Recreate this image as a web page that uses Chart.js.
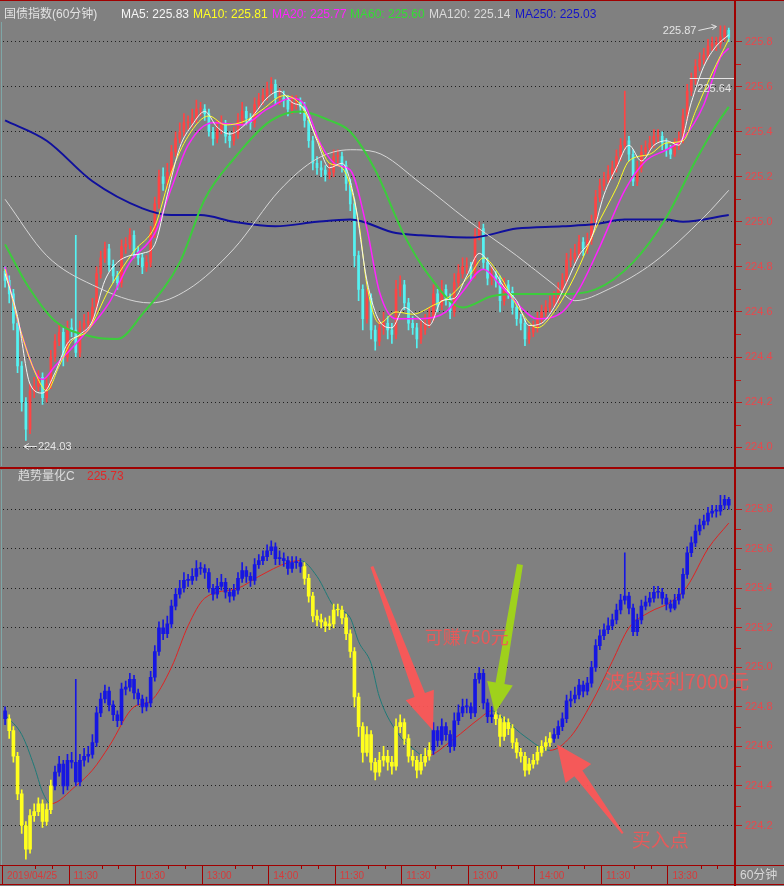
<!DOCTYPE html>
<html lang="zh-CN">
<head>
<meta charset="utf-8">
<title>国债指数(60分钟)</title>
<script src="https://cdn.jsdelivr.net/npm/chart.js@4.4.1/dist/chart.umd.min.js"></script>
<style>
  html, body { margin: 0; padding: 0; background: #808080; }
  #board { position: relative; width: 784px; height: 886px; overflow: hidden; background: #808080; }
  #board canvas { position: absolute; left: 0; }
  .txt { position: absolute; font: 12px "Liberation Sans", "Noto Sans CJK SC", sans-serif; line-height: 14px; white-space: nowrap; }
  .rule { position: absolute; background: #a00000; }
  .edge { position: absolute; left: 1px; width: 1px; background: #7fa6a6; }
</style>
</head>
<body>
<div id="board">
  <canvas id="pricePane" width="784" height="468" style="top:0"></canvas>
  <canvas id="trendPane" width="784" height="418" style="top:468px"></canvas>

  <div class="rule" style="left:0;top:0;width:784px;height:1px"></div>
  <div class="rule" style="left:0;top:467px;width:784px;height:2px"></div>
  <div class="rule" style="left:734px;top:0;width:2px;height:886px"></div>
  <div class="edge" style="top:22px;height:444px"></div>
  <div class="edge" style="top:470px;height:395px"></div>

  <div class="txt" style="left:4px;top:7px;color:#e2e2e2">国债指数(60分钟)</div>
  <div class="txt" style="left:121px;top:7px;color:#f6f6f6">MA5: 225.83</div>
  <div class="txt" style="left:193px;top:7px;color:#ffff22">MA10: 225.81</div>
  <div class="txt" style="left:272px;top:7px;color:#ff22ff">MA20: 225.77</div>
  <div class="txt" style="left:350px;top:7px;color:#33dd33">MA60: 225.60</div>
  <div class="txt" style="left:429px;top:7px;color:#dadada">MA120: 225.14</div>
  <div class="txt" style="left:515px;top:7px;color:#1414c8">MA250: 225.03</div>

  <div class="txt" style="left:18px;top:469px;color:#dcdcdc">趋势量化C</div>
  <div class="txt" style="left:87px;top:469px;color:#e02828">225.73</div>
</div>

<script>
// 60分钟K线：每格16根，共11格
const barsPerCell = 16;
const barSlots = 176;
const firstOpen = 224.78;

const closes = [
  224.74, 224.68, 224.55, 224.36, 224.20, 224.08, 224.25, 224.27, 224.31, 224.22,
  224.28, 224.40, 224.47, 224.51, 224.40, 224.53, 224.52, 224.42, 224.53, 224.55,
  224.56, 224.62, 224.77, 224.84, 224.88, 224.81, 224.76, 224.73, 224.89, 224.90,
  224.94, 224.87, 224.84, 224.80, 224.82, 224.95, 225.08, 225.20, 225.17, 225.22,
  225.31, 225.37, 225.40, 225.44, 225.44, 225.46, 225.50, 225.50, 225.48, 225.40,
  225.37, 225.41, 225.43, 225.38, 225.36, 225.39, 225.45, 225.49, 225.46, 225.44,
  225.52, 225.54, 225.56, 225.59, 225.61, 225.55, 225.55, 225.54, 225.50, 225.53,
  225.53, 225.51, 225.45, 225.36, 225.26, 225.24, 225.23, 225.21, 225.22, 225.29,
  225.29, 225.25, 225.17, 225.08, 224.85, 224.70, 224.57, 224.66, 224.52, 224.47,
  224.53, 224.55, 224.52, 224.50, 224.70, 224.72, 224.64, 224.55, 224.53, 224.48,
  224.52, 224.55, 224.58, 224.68, 224.63, 224.70, 224.66, 224.60, 224.73, 224.77,
  224.80, 224.80, 224.77, 224.94, 224.97, 224.82, 224.75, 224.76, 224.74, 224.65,
  224.72, 224.69, 224.62, 224.57, 224.55, 224.48, 224.51, 224.53, 224.57, 224.60,
  224.62, 224.64, 224.66, 224.70, 224.74, 224.83, 224.84, 224.86, 224.91, 224.88,
  224.92, 225.00, 225.11, 225.16, 225.19, 225.21, 225.24, 225.29, 225.34, 225.36,
  225.30, 225.18, 225.24, 225.31, 225.33, 225.35, 225.38, 225.38, 225.35, 225.32,
  225.30, 225.34, 225.37, 225.47, 225.58, 225.63, 225.69, 225.72, 225.74, 225.78,
  225.79, 225.79, 225.82, 225.85, 225.82
];

const highs = [
  224.80, 224.76, 224.70, 224.57, 224.38, 224.22, 224.28, 224.31, 224.34, 224.33,
  224.31, 224.43, 224.50, 224.55, 224.53, 224.56, 224.57, 224.94, 224.56, 224.59,
  224.60, 224.66, 224.80, 224.87, 224.91, 224.90, 224.83, 224.78, 224.92, 224.93,
  224.97, 224.96, 224.89, 224.86, 224.85, 224.98, 225.11, 225.23, 225.24, 225.26,
  225.34, 225.40, 225.44, 225.48, 225.47, 225.50, 225.54, 225.53, 225.52, 225.50,
  225.42, 225.45, 225.47, 225.45, 225.40, 225.42, 225.48, 225.53, 225.51, 225.48,
  225.55, 225.57, 225.59, 225.62, 225.64, 225.63, 225.59, 225.58, 225.56, 225.56,
  225.56, 225.55, 225.53, 225.47, 225.38, 225.29, 225.27, 225.25, 225.26, 225.32,
  225.32, 225.31, 225.27, 225.19, 225.10, 224.87, 224.72, 224.70, 224.68, 224.54,
  224.57, 224.60, 224.58, 224.55, 224.74, 224.76, 224.74, 224.66, 224.58, 224.55,
  224.56, 224.59, 224.62, 224.72, 224.70, 224.74, 224.72, 224.68, 224.77, 224.81,
  224.84, 224.84, 224.82, 224.97, 225.00, 224.99, 224.84, 224.80, 224.78, 224.76,
  224.75, 224.74, 224.71, 224.64, 224.59, 224.57, 224.54, 224.56, 224.60, 224.63,
  224.65, 224.67, 224.69, 224.73, 224.77, 224.86, 224.88, 224.90, 224.94, 224.93,
  224.95, 225.03, 225.14, 225.19, 225.22, 225.25, 225.27, 225.32, 225.37, 225.58,
  225.38, 225.32, 225.27, 225.34, 225.36, 225.38, 225.41, 225.41, 225.40, 225.37,
  225.34, 225.37, 225.40, 225.50, 225.61, 225.66, 225.72, 225.75, 225.77, 225.81,
  225.82, 225.82, 225.87, 225.87, 225.86
];

const lows = [
  224.71, 224.64, 224.52, 224.33, 224.16, 224.03, 224.06, 224.22, 224.25, 224.19,
  224.20, 224.26, 224.38, 224.45, 224.36, 224.38, 224.49, 224.40, 224.40, 224.50,
  224.52, 224.54, 224.60, 224.75, 224.82, 224.78, 224.73, 224.70, 224.71, 224.86,
  224.88, 224.84, 224.81, 224.77, 224.78, 224.80, 224.93, 225.06, 225.14, 225.15,
  225.20, 225.29, 225.35, 225.38, 225.41, 225.42, 225.44, 225.47, 225.45, 225.38,
  225.34, 225.35, 225.39, 225.35, 225.33, 225.34, 225.37, 225.43, 225.43, 225.41,
  225.42, 225.50, 225.52, 225.54, 225.57, 225.52, 225.52, 225.51, 225.47, 225.48,
  225.50, 225.48, 225.42, 225.33, 225.23, 225.21, 225.20, 225.18, 225.19, 225.20,
  225.26, 225.22, 225.14, 225.05, 224.80, 224.65, 224.52, 224.55, 224.48, 224.43,
  224.45, 224.50, 224.48, 224.46, 224.48, 224.67, 224.61, 224.52, 224.50, 224.44,
  224.46, 224.50, 224.53, 224.56, 224.60, 224.61, 224.63, 224.57, 224.58, 224.71,
  224.75, 224.77, 224.74, 224.75, 224.92, 224.79, 224.72, 224.72, 224.71, 224.60,
  224.63, 224.66, 224.59, 224.54, 224.52, 224.45, 224.46, 224.49, 224.51, 224.55,
  224.58, 224.60, 224.62, 224.64, 224.68, 224.72, 224.80, 224.82, 224.84, 224.85,
  224.86, 224.90, 224.98, 225.09, 225.14, 225.17, 225.19, 225.22, 225.27, 225.32,
  225.27, 225.16, 225.16, 225.22, 225.29, 225.31, 225.33, 225.35, 225.32, 225.29,
  225.28, 225.29, 225.32, 225.35, 225.45, 225.56, 225.61, 225.67, 225.70, 225.72,
  225.76, 225.76, 225.77, 225.80, 225.80
];

// 开盘价取上一根收盘（连续K线）
const opens = closes.map((c, i) => (i === 0 ? firstOpen : closes[i - 1]));

// 均线，[K线序号, 数值]
const ma5 = [[0,224.77],[3,224.58],[6,224.28],[9,224.24],[12,224.33],[15,224.46],[18,224.50],[21,224.56],[24,224.74],[27,224.82],
  [30,224.85],[33,224.86],[36,224.90],[39,225.12],[42,225.33],[45,225.43],[48,225.49],[51,225.42],[54,225.39],[57,225.42],
  [60,225.48],[63,225.55],[66,225.58],[69,225.53],[72,225.50],[75,225.36],[78,225.24],[81,225.26],[84,225.10],[87,224.74],
  [90,224.56],[93,224.53],[96,224.62],[99,224.58],[102,224.54],[105,224.65],[108,224.66],[111,224.76],[114,224.86],[117,224.80],
  [120,224.71],[123,224.65],[126,224.54],[129,224.55],[132,224.62],[135,224.73],[138,224.85],[141,224.93],[144,225.12],[147,225.24],
  [150,225.34],[153,225.27],[156,225.34],[159,225.36],[162,225.34],[165,225.53],[168,225.69],[171,225.78],[174,225.83]];
const ma10 = [[0,224.79],[4,224.50],[8,224.30],[10,224.25],[13,224.36],[16,224.47],[20,224.52],[25,224.70],[31,224.87],[36,224.98],
  [40,225.22],[44,225.38],[49,225.47],[53,225.43],[58,225.45],[62,225.50],[67,225.56],[71,225.52],[75,225.37],[78,225.26],
  [81,225.24],[85,225.00],[87,224.72],[90,224.55],[94,224.60],[98,224.59],[103,224.63],[107,224.67],[112,224.77],[115,224.84],
  [119,224.76],[123,224.63],[128,224.53],[132,224.60],[137,224.76],[142,224.97],[147,225.15],[150,225.27],[155,225.30],[159,225.35],
  [163,225.36],[166,225.49],[170,225.66],[174,225.81]];
const ma20 = [[0,224.80],[4,224.50],[9,224.30],[12,224.36],[19,224.50],[25,224.64],[30,224.82],[36,224.95],[40,225.15],[44,225.34],
  [50,225.44],[57,225.43],[63,225.50],[69,225.55],[72,225.52],[76,225.34],[80,225.25],[83,225.23],[87,224.97],[90,224.69],
  [94,224.57],[100,224.57],[106,224.60],[110,224.69],[115,224.79],[119,224.72],[123,224.64],[128,224.57],[134,224.60],[138,224.70],
  [143,224.89],[149,225.14],[154,225.27],[159,225.32],[163,225.37],[168,225.52],[172,225.73],[174,225.77]];
const ma60 = [[0,224.90],[5,224.73],[12,224.56],[21,224.49],[27,224.48],[33,224.59],[42,224.82],[48,225.10],[55,225.28],[64,225.45],
  [71,225.49],[78,225.45],[83,225.40],[89,225.23],[96,224.94],[102,224.76],[110,224.62],[117,224.67],[123,224.68],[134,224.68],
  [142,224.70],[151,224.82],[159,225.02],[166,225.27],[171,225.43],[174,225.51]];
const ma120 = [[0,225.10],[10,224.85],[21,224.72],[35,224.64],[44,224.70],[55,224.88],[66,225.14],[75,225.28],[83,225.32],[89,225.31],
  [100,225.17],[111,225.01],[123,224.85],[132,224.72],[137,224.65],[145,224.70],[156,224.82],[168,225.02],[174,225.14]];
const ma250 = [[0,225.45],[10,225.36],[21,225.18],[33,225.06],[40,225.03],[47,225.03],[55,225.00],[65,224.98],[75,225.00],[83,225.01],
  [94,224.95],[100,224.94],[112,224.93],[123,224.97],[134,224.98],[142,224.99],[149,225.01],[159,225.01],[163,225.00],[174,225.03]];

// 趋势量化C 线
const trendLine = [[0,224.76],[4,224.66],[7,224.50],[9,224.37],[11,224.31],[17,224.40],[21,224.48],[25,224.60],[31,224.80],[35,224.83],
  [40,225.00],[44,225.21],[48,225.35],[56,225.40],[61,225.46],[68,225.53],[71,225.54],[75,225.46],[79,225.31],[83,225.25],
  [85,225.13],[88,225.02],[90,224.85],[95,224.65],[98,224.59],[101,224.55],[108,224.64],[114,224.74],[117,224.78],[121,224.72],
  [125,224.65],[131,224.58],[136,224.65],[141,224.82],[146,225.03],[150,225.20],[155,225.28],[160,225.33],[164,225.41],[169,225.60],
  [174,225.73]];
// 多头区间（K线序号起止）
const bullRanges = [[0, 0], [12, 71], [103, 117], [132, 174]];

const priceTicks = [224.0, 224.2, 224.4, 224.6, 224.8, 225.0, 225.2, 225.4, 225.6, 225.8];
const trendTicks = [224.2, 224.4, 224.6, 224.8, 225.0, 225.2, 225.4, 225.6, 225.8];
const xLabels = ['2019/04/25', '11:30', '10:30', '13:00', '14:00', '11:30', '11:30', '13:00', '14:00', '11:30', '13:30'];

// 标注（位置用K线坐标和价格）
const lowMark = { pos: 5.5, price: 224.03 };
const highMark = { pos: 172.5, price: 225.87 };
const cursorMark = { pos: 165.1, price: 225.64 };
const arrowMarks = [
  { tail: [88.7, 225.51], tip: [103.4, 224.68], color: 'rgba(255,86,86,0.92)', tailW: 3, neckW: 11, headW: 30, headL: 38 },
  { tail: [124.3, 225.52], tip: [118.3, 224.77], color: 'rgba(160,212,24,0.96)', tailW: 6, neckW: 9, headW: 26, headL: 30 },
  { tail: [149.0, 224.16], tip: [133.2, 224.61], color: 'rgba(255,86,86,0.92)', tailW: 2, neckW: 10, headW: 32, headL: 36 }
];
const noteTexts = [
  { pos: 101.4, price: 225.155, text: '可赚750元', size: 18 },
  { pos: 144.7, price: 224.93, text: '波段获利7000元', size: 20 },
  { pos: 151.2, price: 224.13, text: '买入点', size: 19 }
];

const UP_RED = '#ff4444';
const DOWN_CYAN = '#54f2f2';
const BULL_BLUE = '#1616e2';
const BEAR_YELLOW = '#ffff1e';
const AXIS_RED = '#c01818';

const isBull = (i) => bullRanges.some(([a, b]) => i >= a - 0.5 && i <= b + 0.5);
const toPoints = (pairs) => pairs.map(([i, v]) => ({ x: i + 0.5, y: v }));

function yAxis(min, max, ticks) {
  return {
    type: 'linear',
    position: 'right',
    min: min,
    max: max,
    afterFit: (s) => { s.width = 49; },
    afterBuildTicks: (s) => { s.ticks = ticks.map(v => ({ value: v })); },
    ticks: {
      color: '#e8484c',
      font: { family: 'Liberation Sans', size: 11 },
      padding: 3,
      callback: (v) => v.toFixed(1),
    },
    grid: { color: '#1e1e1e', lineWidth: 1, tickColor: AXIS_RED, tickLength: 7, tickBorderDash: [] },
    border: { display: false, dash: [1, 3] },
  };
}

function candleSets(bodyColor, bodyW, wickOrder) {
  return [
    {
      type: 'bar',
      data: closes.map((c, i) => ({ x: i + 0.5, y: [lows[i], highs[i]] })),
      backgroundColor: bodyColor,
      barThickness: 1,
      grouped: false,
      minBarLength: 1,
      order: wickOrder,
    },
    {
      type: 'bar',
      data: closes.map((c, i) => ({ x: i + 0.5, y: [opens[i], c] })),
      backgroundColor: bodyColor,
      barThickness: bodyW,
      grouped: false,
      minBarLength: 1,
      order: wickOrder - 1,
    },
  ];
}

function maLine(pairs, color, width, order) {
  return {
    type: 'line',
    data: toPoints(pairs),
    borderColor: color,
    borderWidth: width,
    pointRadius: 0,
    cubicInterpolationMode: 'monotone',
    order: order,
  };
}

const minorTicks = {
  id: 'minorTicks',
  afterDraw(chart) {
    const { ctx, chartArea, scales: { y } } = chart;
    const vals = y.ticks.map(t => t.value);
    ctx.save();
    ctx.strokeStyle = AXIS_RED;
    ctx.lineWidth = 1;
    for (let k = 0; k < vals.length - 1; k++) {
      const py = Math.round(y.getPixelForValue((vals[k] + vals[k + 1]) / 2)) + 0.5;
      ctx.beginPath();
      ctx.moveTo(chartArea.right + 1, py);
      ctx.lineTo(chartArea.right + 6, py);
      ctx.stroke();
    }
    ctx.restore();
  },
};

const priceNotes = {
  id: 'priceNotes',
  afterDatasetsDraw(chart) {
    const { ctx, chartArea, scales: { x, y } } = chart;
    ctx.save();
    ctx.font = '11px "Liberation Sans", sans-serif';
    ctx.fillStyle = '#e4e4e4';
    ctx.strokeStyle = '#e4e4e4';
    ctx.lineWidth = 1;
    ctx.textBaseline = 'middle';

    // 最低价
    let px = x.getPixelForValue(lowMark.pos);
    let py = Math.round(y.getPixelForValue(lowMark.price)) + 6.5;
    ctx.beginPath();
    ctx.moveTo(px - 2, py); ctx.lineTo(px + 11, py);
    ctx.moveTo(px - 2, py); ctx.lineTo(px + 3, py - 3);
    ctx.moveTo(px - 2, py); ctx.lineTo(px + 3, py + 3);
    ctx.stroke();
    ctx.textAlign = 'left';
    ctx.fillText(lowMark.price.toFixed(2), px + 12, py);

    // 最高价
    px = x.getPixelForValue(highMark.pos);
    py = Math.round(y.getPixelForValue(highMark.price)) + 0.5;
    ctx.beginPath();
    ctx.moveTo(px - 22, py + 4); ctx.lineTo(px - 4, py);
    ctx.moveTo(px - 4, py); ctx.lineTo(px - 9, py - 2);
    ctx.moveTo(px - 4, py); ctx.lineTo(px - 8, py + 3);
    ctx.stroke();
    ctx.textAlign = 'right';
    ctx.fillText(highMark.price.toFixed(2), px - 24, py + 4);

    // 光标价位线
    px = x.getPixelForValue(cursorMark.pos);
    py = Math.round(y.getPixelForValue(cursorMark.price)) + 0.5;
    ctx.beginPath();
    ctx.moveTo(px, py); ctx.lineTo(chartArea.right, py);
    ctx.stroke();
    ctx.fillText(cursorMark.price.toFixed(2), chartArea.right - 4, py + 10);
    ctx.restore();
  },
};

function drawArrow(ctx, x0, y0, x1, y1, m) {
  const dx = x1 - x0, dy = y1 - y0, len = Math.hypot(dx, dy);
  const ux = dx / len, uy = dy / len, nx = -uy, ny = ux;
  const bx = x1 - ux * m.headL, by = y1 - uy * m.headL;
  ctx.beginPath();
  ctx.moveTo(x0 + nx * m.tailW / 2, y0 + ny * m.tailW / 2);
  ctx.lineTo(bx + nx * m.neckW / 2, by + ny * m.neckW / 2);
  ctx.lineTo(bx + nx * m.headW / 2, by + ny * m.headW / 2);
  ctx.lineTo(x1, y1);
  ctx.lineTo(bx - nx * m.headW / 2, by - ny * m.headW / 2);
  ctx.lineTo(bx - nx * m.neckW / 2, by - ny * m.neckW / 2);
  ctx.lineTo(x0 - nx * m.tailW / 2, y0 - ny * m.tailW / 2);
  ctx.closePath();
  ctx.fillStyle = m.color;
  ctx.fill();
}

const trendNotes = {
  id: 'trendNotes',
  afterDraw(chart) {
    const { ctx, chartArea, scales: { x, y } } = chart;
    ctx.save();
    arrowMarks.forEach(m => {
      drawArrow(ctx,
        x.getPixelForValue(m.tail[0]), y.getPixelForValue(m.tail[1]),
        x.getPixelForValue(m.tip[0]), y.getPixelForValue(m.tip[1]), m);
    });
    ctx.fillStyle = 'rgba(244,84,84,0.88)';
    ctx.textAlign = 'left';
    ctx.textBaseline = 'middle';
    noteTexts.forEach(t => {
      ctx.font = t.size + 'px "Noto Sans CJK SC", sans-serif';
      ctx.fillText(t.text, x.getPixelForValue(t.pos), y.getPixelForValue(t.price));
    });

    // 时间轴
    const bottom = chartArea.bottom;
    ctx.strokeStyle = '#a00000';
    ctx.lineWidth = 1;
    ctx.beginPath();
    ctx.moveTo(0, bottom + 0.5); ctx.lineTo(chart.width, bottom + 0.5);
    ctx.moveTo(0, bottom + 19.5); ctx.lineTo(chart.width, bottom + 19.5);
    for (let k = 0; k <= xLabels.length; k++) {
      const px = Math.round(x.getPixelForValue(k * barsPerCell)) - 0.5;
      ctx.moveTo(px, bottom); ctx.lineTo(px, bottom + 19);
      if (k < xLabels.length) {
        [0.5, 0.75].forEach(f => {
          const mx = Math.round(x.getPixelForValue((k + f) * barsPerCell)) - 0.5;
          ctx.moveTo(mx, bottom); ctx.lineTo(mx, bottom + 4);
        });
      }
    }
    ctx.stroke();
    ctx.font = '10px "Liberation Sans", sans-serif';
    ctx.fillStyle = '#d83a3a';
    xLabels.forEach((lab, k) => {
      ctx.fillText(lab, x.getPixelForValue(k * barsPerCell) + 4, bottom + 11);
    });
    ctx.font = '12px "Liberation Sans", "Noto Sans CJK SC", sans-serif';
    ctx.fillStyle = '#d8d8d8';
    ctx.fillText('60分钟', chartArea.right + 5, bottom + 11);
    ctx.restore();
  },
};

const baseOptions = (yScale, padding) => ({
  responsive: false,
  animation: false,
  events: [],
  layout: { padding: padding },
  plugins: { legend: { display: false }, tooltip: { enabled: false } },
  scales: {
    x: { type: 'linear', min: 0, max: barSlots, offset: false, display: false, grid: { offset: false } },
    y: yScale,
  },
});

new Chart(document.getElementById('pricePane'), {
  data: {
    datasets: [
      maLine(ma5, '#f4f4f4', 1, 1),
      maLine(ma10, '#ffff22', 1, 2),
      maLine(ma20, '#ff22ff', 1.5, 3),
      maLine(ma60, '#3ccc3c', 2, 4),
      maLine(ma120, '#d6d6d6', 1, 5),
      maLine(ma250, '#10109c', 2, 6),
      ...candleSets(c => (closes[c.dataIndex] >= opens[c.dataIndex] ? UP_RED : DOWN_CYAN), 2, 20),
    ],
  },
  options: baseOptions(yAxis(223.95, 225.887, priceTicks), { top: 22, bottom: 2, left: 3, right: 0 }),
  plugins: [minorTicks, priceNotes],
});

new Chart(document.getElementById('trendPane'), {
  data: {
    datasets: [
      ...candleSets(c => (isBull(c.dataIndex) ? BULL_BLUE : BEAR_YELLOW), 3, 3),
      {
        type: 'line',
        data: toPoints(trendLine),
        borderWidth: 1,
        borderColor: '#e02222',
        pointRadius: 0,
        cubicInterpolationMode: 'monotone',
        segment: {
          borderColor: s => (isBull((s.p0.parsed.x + s.p1.parsed.x) / 2 - 0.5) ? '#e02222' : '#1f7a78'),
        },
        order: 5,
      },
    ],
  },
  options: baseOptions(yAxis(224.0, 225.96, trendTicks), { top: 2, bottom: 21, left: 3, right: 0 }),
  plugins: [minorTicks, trendNotes],
});
</script>
</body>
</html>
